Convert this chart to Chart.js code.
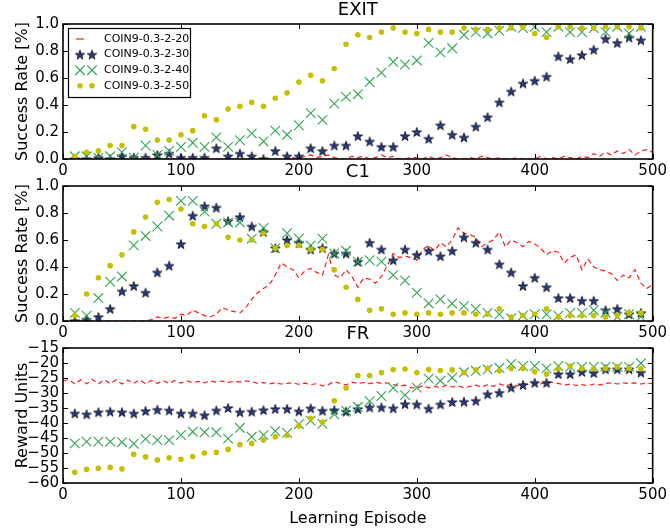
<!DOCTYPE html>
<html>
<head>
<meta charset="utf-8">
<title>COIN9 learning curves</title>
<script src="https://cdn.jsdelivr.net/npm/chart.js@4.4.1/dist/chart.umd.min.js"></script>
<style>
  html, body { margin: 0; padding: 0; background: #fff; }
  #wrap { position: relative; width: 670px; height: 531px; overflow: hidden; }
  canvas { position: absolute; left: 0; }
</style>
</head>
<body>
<div id="wrap">
  <canvas id="exitChart" width="670" height="180" style="top:0"></canvas>
  <canvas id="c1Chart" width="670" height="180" style="top:162px"></canvas>
  <canvas id="frChart" width="670" height="207" style="top:324px"></canvas>
</div>
<script>
// series names and x positions
const seriesNames = ['COIN9-0.3-2-20', 'COIN9-0.3-2-30', 'COIN9-0.3-2-40', 'COIN9-0.3-2-50'];
const episodes = [10, 20, 30, 40, 50, 60, 70, 80, 90, 100, 110, 120, 130, 140, 150, 160, 170, 180, 190, 200,
  210, 220, 230, 240, 250, 260, 270, 280, 290, 300, 310, 320, 330, 340, 350, 360, 370, 380, 390, 400,
  410, 420, 430, 440, 450, 460, 470, 480, 490];
const redEpisodes = [0, 5, 10, 15, 20, 25, 30, 35, 40, 45, 50, 55, 60, 65, 70, 75, 80, 85, 90, 95,
  100, 105, 110, 115, 120, 125, 130, 135, 140, 145, 150, 155, 160, 165, 170, 175, 180, 185, 190, 195,
  200, 205, 210, 215, 220, 225, 230, 235, 240, 245, 250, 255, 260, 265, 270, 275, 280, 285, 290, 295,
  300, 305, 310, 315, 320, 325, 330, 335, 340, 345, 350, 355, 360, 365, 370, 375, 380, 385, 390, 395,
  400, 405, 410, 415, 420, 425, 430, 435, 440, 445, 450, 455, 460, 465, 470, 475, 480, 485, 490, 495, 500];

// EXIT success rate
const exitRed = [0, 0, 0, 0, 0, 0, 0, 0, 0, 0,
  0, 0, 0, 0, 0, 0, 0, 0, 0, 0,
  0, 0, 0, 0, 0, 0, 0, 0, 0, 0,
  0, 0, 0, 0, 0, 0, 0, 0, 0, 0.01,
  0, 0.02, 0.03, 0.01, 0.02, 0.03, 0.01, 0, 0, 0.02,
  0.01, 0.02, 0, 0.01, 0.03, 0.01, 0.02, 0, 0, 0.01,
  0.01, 0, 0.02, 0, 0.01, 0.03, 0.01, 0, 0, 0.01,
  0, 0.02, 0.01, 0, 0.01, 0, 0, 0.01, 0, 0,
  0, 0.02, 0, 0.01, 0, 0.02, 0.01, 0, 0.02, 0.01,
  0.04, 0.02, 0.05, 0.03, 0.06, 0.04, 0.07, 0.03, 0.06, 0.07,
  0.05];
const exit30 = [0.0, 0.0, 0.01, 0.0, 0.02, 0.01, 0.01, 0.03, 0.04, 0.01, 0.01, 0.01, 0.08, 0.02, 0.04, 0.02, 0.0,
  0.06, 0.02, 0.02, 0.08, 0.06, 0.10, 0.10, 0.17, 0.13, 0.09, 0.09, 0.17, 0.20, 0.15, 0.25, 0.18, 0.16,
  0.24, 0.31, 0.42, 0.50, 0.56, 0.58, 0.61, 0.76, 0.74, 0.77, 0.81, 0.89, 0.86, 0.90, 0.88];
const exit40 = [0.02, 0.02, 0.01, 0.02, 0.05, 0.01, 0.10, 0.03, 0.06, 0.09, 0.12, 0.09, 0.16, 0.09, 0.14, 0.19,
  0.13, 0.21, 0.18, 0.25, 0.34, 0.29, 0.41, 0.46, 0.48, 0.57, 0.64, 0.72, 0.70, 0.73, 0.86, 0.79, 0.82,
  0.92, 0.94, 0.93, 0.95, 0.98, 0.97, 0.98, 0.94, 0.98, 0.94, 0.94, 0.97, 0.94, 0.98, 0.93, 0.98];
const exit50 = [0.02, 0.05, 0.06, 0.10, 0.10, 0.24, 0.22, 0.14, 0.14, 0.18, 0.21, 0.32, 0.29, 0.37, 0.39, 0.42,
  0.39, 0.45, 0.49, 0.57, 0.62, 0.58, 0.67, 0.85, 0.92, 0.90, 0.94, 0.97, 0.94, 0.93, 0.96, 0.94, 0.94,
  0.97, 0.96, 0.96, 0.97, 0.97, 0.98, 0.93, 0.90, 0.98, 0.98, 0.97, 0.97, 0.98, 0.98, 0.98, 0.97];

// C1 success rate
const c1Red = [0, 0, 0, 0, 0, 0, 0, 0, 0, 0,
  0, 0, 0, 0, 0, 0.01, 0.03, 0.02, 0.03, 0.02,
  0.05, 0.04, 0.08, 0.06, 0.04, 0.03, 0.05, 0.10, 0.08, 0.07,
  0.06, 0.10, 0.16, 0.21, 0.24, 0.27, 0.34, 0.43, 0.40, 0.38,
  0.32, 0.37, 0.39, 0.36, 0.34, 0.49, 0.34, 0.32, 0.38, 0.33,
  0.25, 0.32, 0.31, 0.28, 0.33, 0.41, 0.50, 0.47, 0.48, 0.47,
  0.45, 0.53, 0.56, 0.52, 0.58, 0.55, 0.60, 0.69, 0.65, 0.64,
  0.62, 0.55, 0.58, 0.60, 0.66, 0.55, 0.60, 0.58, 0.55, 0.59,
  0.57, 0.54, 0.49, 0.52, 0.51, 0.43, 0.47, 0.49, 0.38, 0.46,
  0.40, 0.38, 0.37, 0.35, 0.30, 0.34, 0.32, 0.38, 0.28, 0.24,
  0.27];
const c130 = [0.0, 0.01, 0.03, 0.09, 0.22, 0.26, 0.21, 0.36, 0.41, 0.57, 0.78, 0.85, 0.84, 0.74, 0.77, 0.70,
  0.66, 0.54, 0.60, 0.58, 0.53, 0.54, 0.50, 0.50, 0.44, 0.58, 0.53, 0.45, 0.53, 0.49, 0.52, 0.48, 0.52,
  0.62, 0.58, 0.53, 0.42, 0.36, 0.26, 0.32, 0.25, 0.17, 0.17, 0.15, 0.15, 0.08, 0.09, 0.05, 0.06];
const c140 = [0.06, 0.04, 0.17, 0.29, 0.33, 0.56, 0.63, 0.70, 0.78, 0.89, 0.89, 0.81, 0.72, 0.73, 0.73, 0.61,
  0.69, 0.54, 0.65, 0.61, 0.56, 0.61, 0.50, 0.52, 0.44, 0.45, 0.44, 0.34, 0.30, 0.21, 0.13, 0.16, 0.13,
  0.11, 0.09, 0.06, 0.05, 0.02, 0.04, 0.05, 0.05, 0.04, 0.06, 0.06, 0.08, 0.06, 0.03, 0.05, 0.03];
const c150 = [0.04, 0.20, 0.32, 0.41, 0.49, 0.66, 0.77, 0.88, 0.90, 0.83, 0.72, 0.70, 0.72, 0.62, 0.60, 0.60,
  0.65, 0.54, 0.56, 0.56, 0.53, 0.53, 0.38, 0.25, 0.16, 0.08, 0.09, 0.05, 0.06, 0.05, 0.06, 0.05, 0.06,
  0.06, 0.05, 0.05, 0.09, 0.03, 0.04, 0.05, 0.09, 0.03, 0.04, 0.04, 0.04, 0.03, 0.04, 0.06, 0.06];

// FR reward
const frRed = [-26.0, -25.5, -27.0, -25.6, -26.9, -25.5, -27.0, -25.6, -26.9, -25.6,
  -27.0, -25.7, -26.8, -25.6, -26.9, -25.8, -26.8, -25.9, -26.8, -25.8,
  -26.7, -26.0, -26.6, -26.1, -26.6, -26.0, -26.4, -26.0, -26.5, -26.1,
  -26.3, -26.0, -26.2, -26.8, -26.5, -27.0, -26.6, -27.0, -26.8, -26.6,
  -27.1, -26.7, -27.2, -26.9, -27.6, -27.2, -26.2, -26.8, -27.3, -26.4,
  -26.8, -26.5, -26.9, -26.4, -26.8, -26.6, -27.2, -27.6, -27.4, -28.2,
  -28.4, -27.6, -28.3, -27.8, -28.2, -27.5, -28.0, -27.6, -28.3, -27.8,
  -27.4, -28.0, -27.2, -27.8, -27.0, -27.6, -27.1, -27.6, -26.9, -27.2,
  -26.6, -27.0, -26.3, -26.5, -26.8, -27.4, -27.0, -27.5, -27.2, -27.6,
  -27.0, -27.3, -26.8, -26.6, -27.0, -26.6, -26.8, -26.6, -27.0, -26.7,
  -26.9];
const fr30 = [-36.8, -37.1, -36.4, -36.2, -36.4, -36.8, -36.0, -35.6, -35.8, -36.8, -36.8, -37.4, -35.8, -35.0,
  -36.4, -36.2, -35.7, -35.3, -35.3, -36.1, -35.1, -35.9, -35.7, -36.2, -35.3, -34.8, -34.8, -35.1, -33.7,
  -33.8, -35.2, -33.8, -33.0, -32.9, -32.6, -30.4, -29.9, -28.2, -27.3, -26.6, -26.6, -23.7, -23.7, -22.9,
  -23.3, -22.1, -22.1, -22.1, -23.2];
const fr40 = [-46.8, -46.2, -46.2, -46.2, -46.4, -46.9, -45.3, -45.7, -45.7, -44.0, -42.9, -43.1, -43.1, -45.2,
  -41.6, -44.6, -44.0, -42.7, -43.3, -40.4, -39.2, -40.3, -37.1, -35.9, -34.6, -32.7, -31.0, -28.3, -30.7,
  -28.2, -25.2, -25.9, -24.9, -23.1, -22.6, -22.1, -21.6, -20.3, -21.0, -21.0, -21.8, -21.0, -21.3, -21.3,
  -21.3, -21.3, -21.3, -21.3, -20.1];
const fr50 = [-56.4, -55.4, -55.1, -54.8, -55.3, -50.4, -51.3, -52.3, -51.6, -52.1, -51.2, -50.0, -49.8, -48.8,
  -47.2, -46.8, -45.7, -44.6, -44.1, -41.0, -38.4, -39.7, -32.6, -28.3, -24.2, -24.2, -23.2, -22.2, -22.0,
  -23.2, -22.2, -22.5, -22.3, -23.2, -22.3, -21.8, -22.6, -21.8, -21.8, -22.9, -23.7, -21.9, -21.0, -21.8,
  -21.9, -21.8, -21.3, -21.8, -21.9];

const RED = '#ff1a1a';
const NAVY = '#283a8c';
const GREEN = '#33a550';
const YELLOW = '#c4c000';

Chart.defaults.font.family = "'DejaVu Sans', sans-serif";
Chart.defaults.color = '#000';

// filled five point star with black edge, like matplotlib's '*'
function makeStar() {
  const c = document.createElement('canvas');
  c.width = 12; c.height = 12;
  const g = c.getContext('2d');
  const R = 5.0, r = 1.95;
  g.beginPath();
  for (let i = 0; i < 10; i++) {
    const ang = -Math.PI / 2 + i * Math.PI / 5;
    const rad = i % 2 ? r : R;
    g.lineTo(6 + rad * Math.cos(ang), 6.5 + rad * Math.sin(ang));
  }
  g.closePath();
  g.fillStyle = NAVY;
  g.fill();
  g.strokeStyle = '#000';
  g.lineWidth = 0.75;
  g.stroke();
  return c;
}
const starImg = makeStar();

function points(xs, ys) {
  return xs.map((x, i) => ({ x: x, y: ys[i] }));
}

function makeDatasets(red, s30, s40, s50) {
  return [
    { label: seriesNames[0], data: points(redEpisodes, red), showLine: true, borderColor: RED,
      borderWidth: 1.2, borderDash: [5, 3.5], pointRadius: 0, order: 4, clip: 0 },
    { label: seriesNames[1], data: points(episodes, s30), pointStyle: starImg, pointRadius: 5,
      order: 3, clip: 0 },
    { label: seriesNames[2], data: points(episodes, s40), pointStyle: 'crossRot', pointRadius: 6.8,
      pointBorderColor: GREEN, pointBorderWidth: 1.1, borderColor: GREEN, order: 2, clip: 0 },
    { label: seriesNames[3], data: points(episodes, s50), pointStyle: 'circle', pointRadius: 2.8,
      pointBackgroundColor: YELLOW, pointBorderWidth: 0, backgroundColor: YELLOW, order: 1, clip: 0 }
  ];
}

// box around the axes and inward tick marks on all four sides
const frameTicks = {
  id: 'frameTicks',
  afterDatasetsDraw(chart) {
    const { ctx, chartArea: a, scales: { x, y } } = chart;
    ctx.save();
    ctx.strokeStyle = '#000';
    ctx.lineWidth = 1;
    ctx.setLineDash([]);
    ctx.beginPath();
    x.ticks.forEach(t => {
      const px = Math.round(x.getPixelForValue(t.value)) + 0.5;
      ctx.moveTo(px, a.bottom); ctx.lineTo(px, a.bottom - 5);
      ctx.moveTo(px, a.top); ctx.lineTo(px, a.top + 5);
    });
    y.ticks.forEach(t => {
      const py = Math.round(y.getPixelForValue(t.value)) + 0.5;
      ctx.moveTo(a.left, py); ctx.lineTo(a.left + 5, py);
      ctx.moveTo(a.right, py); ctx.lineTo(a.right - 5, py);
    });
    ctx.stroke();
    ctx.lineWidth = 1.6;
    ctx.strokeRect(a.left, a.top, a.width, a.height);
    ctx.restore();
  }
};

// framed legend in the upper left corner, two markers per entry
const legendBox = {
  id: 'legendBox',
  afterDraw(chart) {
    const { ctx, chartArea: a } = chart;
    const left = a.left + 5, top = a.top + 4;
    ctx.save();
    ctx.fillStyle = '#fff';
    ctx.fillRect(left, top, 122, 69);
    ctx.strokeStyle = '#000';
    ctx.lineWidth = 1.2;
    ctx.strokeRect(left + 0.5, top + 0.5, 122, 69);
    ctx.font = "11px 'DejaVu Sans'";
    ctx.textBaseline = 'middle';
    chart.data.datasets.forEach((ds, i) => {
      const y = top + 11 + i * 15.6;
      if (ds.showLine) {
        ctx.strokeStyle = ds.borderColor;
        ctx.lineWidth = ds.borderWidth;
        ctx.beginPath();
        ctx.moveTo(left + 8, y); ctx.lineTo(left + 16, y);
        ctx.stroke();
      } else {
        [left + 12, left + 24].forEach(mx => {
          ctx.strokeStyle = ds.pointBorderColor || '#000';
          ctx.fillStyle = ds.pointBackgroundColor || '#000';
          Chart.helpers.drawPoint(ctx, {
            pointStyle: ds.pointStyle, radius: ds.pointRadius,
            borderWidth: ds.pointBorderWidth || 0, rotation: 0
          }, mx, y);
        });
      }
      ctx.fillStyle = '#000';
      ctx.fillText(ds.label, left + 36, y);
    });
    ctx.restore();
  }
};

function makeChart(id, title, datasets, yOpts, bottomTitle, plugins) {
  const isLast = !!bottomTitle;
  return new Chart(document.getElementById(id), {
    type: 'scatter',
    data: { datasets: datasets },
    options: {
      responsive: false,
      maintainAspectRatio: false,
      animation: false,
      layout: { padding: { left: 0, right: 15, top: 0, bottom: 0 } },
      plugins: {
        legend: { display: false },
        tooltip: { enabled: false },
        title: {
          display: true, text: title, fullSize: false, color: '#000',
          font: { size: 18, weight: 'normal' }, padding: { top: 0, bottom: 2.4 }
        }
      },
      scales: {
        x: {
          type: 'linear', position: 'bottom', min: 0, max: 500,
          grid: { display: false, drawTicks: false },
          border: { display: false },
          ticks: { stepSize: 100, maxRotation: 0, autoSkip: false, padding: 3, font: { size: 15 } },
          title: {
            display: isLast, text: bottomTitle || '',
            font: { size: 16 }, padding: { top: 0, bottom: 3 }
          },
          afterFit(scale) { scale.height = isLast ? 48 : 21; }
        },
        y: {
          type: 'linear', min: yOpts.min, max: yOpts.max,
          grid: { display: false, drawTicks: false },
          border: { display: false },
          ticks: {
            stepSize: yOpts.step, autoSkip: false, padding: 4,
            font: { size: 15, lineHeight: 1 }, callback: yOpts.format
          },
          title: {
            display: true, text: yOpts.title,
            font: { size: 16 }, padding: { top: 13, bottom: 0 }
          },
          afterFit(scale) { scale.width = 63; }
        }
      }
    },
    plugins: plugins
  });
}

const rateAxis = { min: 0, max: 1, step: 0.2, title: 'Success Rate [%]', format: v => v.toFixed(1) };
const rewardAxis = { min: -60, max: -15, step: 5, title: 'Reward Units',
  format: v => String(Math.round(v)).replace('-', '\u2212') };

makeChart('exitChart', 'EXIT', makeDatasets(exitRed, exit30, exit40, exit50), rateAxis, null, [frameTicks, legendBox]);
makeChart('c1Chart', 'C1', makeDatasets(c1Red, c130, c140, c150), rateAxis, null, [frameTicks]);
makeChart('frChart', 'FR', makeDatasets(frRed, fr30, fr40, fr50), rewardAxis, 'Learning Episode', [frameTicks]);
</script>
</body>
</html>
